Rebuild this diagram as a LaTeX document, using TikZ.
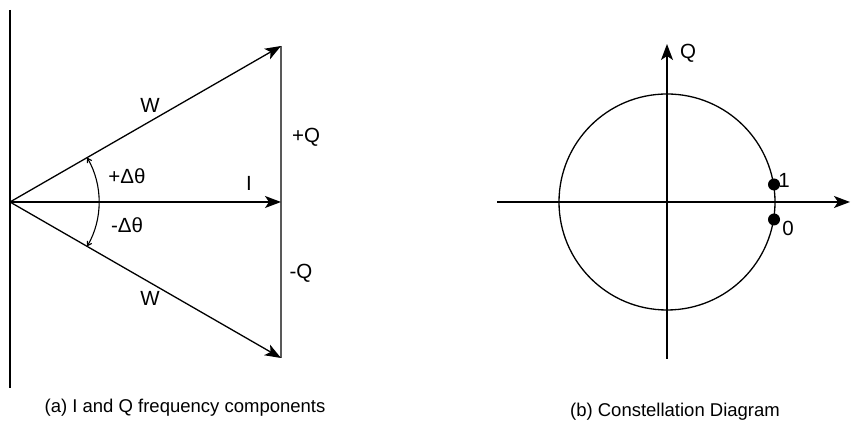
\documentclass[tikz,border=0pt]{standalone}
\usepackage{fontspec}
\setmainfont{Liberation Sans}
\usetikzlibrary{arrows.meta}
\begin{document}
\begin{tikzpicture}[x=1pt,y=1pt,
  ln/.style={line width=1.3pt, black},
  vec/.style={ln, -{Stealth[length=16pt,width=12pt,inset=4pt]}},
  lbl/.style={font=\fontsize{20.5}{24}\selectfont, inner sep=0pt},
  captxt/.style={font=\fontsize{18.5}{22}\selectfont, inner sep=0pt}]
\useasboundingbox (0,0) rectangle (851,427);
% ---- (a)
\coordinate (O) at (10,225);
\coordinate (Itip) at (281,225);
\coordinate (Wup) at (281,381);
\coordinate (Wdn) at (281,69);
\coordinate (Ltop) at (10,417);
\coordinate (Lbot) at (10,39);
\draw[ln] (Ltop) -- (Lbot);
\draw[ln, gray!70!black] (Wup) -- (Wdn);
\draw[vec] (O) -- (Itip);
\draw[vec] (O) -- (Wup);
\draw[vec] (O) -- (Wdn);
\draw[line width=1.1pt, {Straight Barb[length=4pt,width=5pt]}-{Straight Barb[length=4pt,width=5pt]}]
  ([shift={(-30:89)}]O) arc[start angle=-30, end angle=30, radius=89];
\node[lbl] (w1) at (150,322) {W};
\node[lbl] (pq) at (306,290) {+Q};
\node[lbl] (pd) at (127,251) {+Δθ};
\node[lbl] (il) at (249,244) {I};
\node[lbl] (md) at (127,202) {-Δθ};
\node[lbl] (mq) at (301,154) {-Q};
\node[lbl] (w2) at (150,129) {W};
\node[captxt] (capa) at (185,19) {(a) I and Q frequency components};
% ---- (b)
\coordinate (C) at (667,225);
\coordinate (xl) at (497,225);
\coordinate (xr) at (850,225);
\coordinate (yb) at (667,68);
\coordinate (yt) at (667,383);
\draw[ln] (C) circle[radius=108];
\draw[vec] (xl) -- (xr);
\draw[vec] (yb) -- (yt);
\node[lbl] (ql) at (688,374) {Q};
\fill (774,242.5) circle[radius=6];
\fill (774,207.5) circle[radius=6];
\node[lbl] (one) at (784,247) {1};
\node[lbl] (zero) at (788,199) {0};
\node[captxt] (capb) at (675,15) {(b) Constellation Diagram};
\end{tikzpicture}
\end{document}
